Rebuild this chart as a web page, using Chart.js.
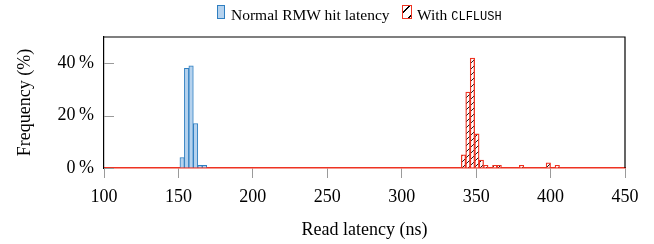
<!DOCTYPE html>
<html>
<head>
<meta charset="utf-8">
<script src="https://cdn.jsdelivr.net/npm/chart.js@4"></script>
<style>
  html, body { margin: 0; padding: 0; background: #fff; }
  #wrap { position: relative; width: 654px; height: 244px; }
  #c { position: absolute; left: 0; top: 0; }
  .lg { position: absolute; font-family: "Liberation Serif", serif; font-size: 15.5px; color: #000; white-space: nowrap; }
  .sw { position: absolute; box-sizing: border-box; }
  .mono { font-family: "Liberation Mono", monospace; font-size: 12px; }
</style>
</head>
<body>
<div id="wrap">
  <canvas id="c" width="654" height="244"></canvas>
  <div class="sw" style="left:217px;top:5px;width:8px;height:14px;background:#b5d2ee;border:1px solid #2f7fc1;"></div>
  <div class="lg" style="left:231px;top:6px;">Normal RMW hit latency</div>
  <div class="sw" style="left:402px;top:5px;width:10px;height:14px;border:1.2px solid #ee3322;background:repeating-linear-gradient(135deg,#fff 0px,#fff 4px,#000 4px,#000 5px,#fff 5px,#fff 8px);"></div>
  <div class="lg" style="left:417px;top:6px;">With <span class="mono">CLFLUSH</span></div>
</div>
<script>
// Histogram bins (ns, left edge of a 3 ns bin) and frequencies (%)
const binWidth = 3;
const normalBins = [151, 154, 157, 160, 163, 166];
const normalFreq = [4, 38, 39, 17, 1, 1];
const flushBins = [340, 343, 346, 349, 352, 355, 361, 364, 379, 397, 403];
const flushFreq = [5, 29, 42, 13, 3, 1, 1, 1, 1, 2, 1];
const xTicksMin = 100, xTicksMax = 450, xStep = 50;
const yTicks = [0, 20, 40];
const yMax = 50;

function toPoints(bins, vals) {
  return bins.map((b, i) => ({ x: b + binWidth / 2, y: vals[i] }));
}

// hatch pattern: white fill with north-east black lines
const pc = document.createElement('canvas');
pc.width = 6; pc.height = 6;
const pctx = pc.getContext('2d');
pctx.fillStyle = '#fff';
pctx.fillRect(0, 0, 6, 6);
pctx.strokeStyle = '#000';
pctx.lineWidth = 0.9;
pctx.beginPath();
pctx.moveTo(-1, 7); pctx.lineTo(7, -1);
pctx.stroke();
const ctx = document.getElementById('c').getContext('2d');
const hatch = ctx.createPattern(pc, 'repeat');

const framePlugin = {
  id: 'frame',
  afterDatasetsDraw(chart) {
    const { ctx, chartArea: a, scales } = chart;
    ctx.save();
    // inward y ticks
    ctx.strokeStyle = '#9a9a9a';
    ctx.lineWidth = 1;
    scales.y.ticks.forEach(t => {
      const py = Math.round(scales.y.getPixelForValue(t.value)) + 0.5;
      ctx.beginPath();
      ctx.moveTo(a.left, py);
      ctx.lineTo(a.left + 10, py);
      ctx.stroke();
    });
    // top and right frame
    ctx.strokeStyle = '#000';
    ctx.lineWidth = 1.2;
    ctx.beginPath();
    ctx.moveTo(a.left, a.top);
    ctx.lineTo(a.right, a.top);
    ctx.lineTo(a.right, a.bottom);
    ctx.stroke();
    ctx.restore();
  }
};

const serif = "'Liberation Serif', serif";

new Chart(ctx, {
  type: 'bar',
  data: {
    datasets: [
      {
        label: 'Normal RMW hit latency',
        data: toPoints(normalBins, normalFreq),
        backgroundColor: '#b5d2ee',
        borderColor: '#2f7fc1',
        borderWidth: 1,
        borderSkipped: 'bottom'
      },
      {
        label: 'With CLFLUSH',
        data: toPoints(flushBins, flushFreq),
        backgroundColor: hatch,
        borderColor: '#ee3322',
        borderWidth: 1.3,
        borderSkipped: 'bottom'
      }
    ]
  },
  options: {
    responsive: false,
    animation: false,
    events: [],
    grouped: false,
    barPercentage: 1,
    categoryPercentage: 1,
    layout: { padding: { top: 37, right: 29, left: 0, bottom: 0 } },
    plugins: { legend: { display: false }, tooltip: { enabled: false } },
    scales: {
      x: {
        type: 'linear',
        min: xTicksMin,
        max: xTicksMax,
        offset: false,
        ticks: { stepSize: xStep, color: '#000', font: { family: serif, size: 18 }, padding: 8, maxRotation: 0 },
        grid: { offset: false, drawOnChartArea: false, drawTicks: true, tickLength: 10, tickColor: '#9a9a9a', tickWidth: 1 },
        border: { display: true, color: '#ee3322', width: 1.5 },
        title: { display: true, text: 'Read latency (ns)', color: '#000', font: { family: serif, size: 18 }, padding: { top: 0, bottom: 3 } },
        afterFit(s) { s.height = 76; }
      },
      y: {
        min: 0,
        max: yMax,
        afterBuildTicks(s) { s.ticks = yTicks.map(v => ({ value: v })); },
        ticks: { color: '#000', font: { family: serif, size: 18 }, padding: 10, callback: v => v + '\u2009%' },
        grid: { drawOnChartArea: false, drawTicks: false },
        border: { display: true, color: '#000', width: 1.2 },
        title: { display: true, text: 'Frequency (%)', color: '#000', font: { family: serif, size: 18 }, padding: { top: 14, bottom: 0 } },
        afterFit(s) { s.width = 104; }
      }
    }
  },
  plugins: [framePlugin]
});
</script>
</body>
</html>
